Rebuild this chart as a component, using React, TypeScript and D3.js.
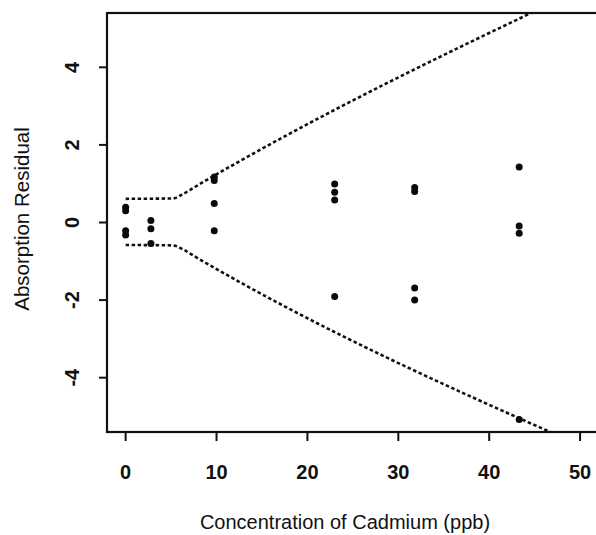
import React from "react";
import * as d3 from "d3";

// Data
const concentration = [0, 0, 0, 0, 2.78, 2.78, 2.78, 9.75, 9.75, 9.75, 9.75, 23, 23, 23, 23, 31.8, 31.8, 31.8, 31.8, 43.3, 43.3, 43.3, 43.3];
const residual = [0.39, 0.3, -0.21, -0.32, 0.05, -0.16, -0.54, 1.17, 1.08, 0.49, -0.21, 0.99, 0.78, 0.58, -1.91, 0.9, 0.8, -1.69, -2.0, 1.43, -0.09, -0.28, -5.08];

const upperX = [0, 5.2, 6.2, 7.5, 50];
const upperY = [0.61, 0.62, 0.72, 0.9, 6.0];
const lowerX = [0, 5.2, 6.2, 7.5, 50];
const lowerY = [-0.58, -0.59, -0.68, -0.86, -5.74];

const xTicks = [0, 10, 20, 30, 40, 50];
const yTicks = [-4, -2, 0, 2, 4];

const xTitle = "Concentration of Cadmium (ppb)";
const yTitle = "Absorption Residual";

const W = 596;
const H = 535;
const left = 107;
const top = 13;
const bottom = 432;
const right = 596;

export default function App() {
  const x = d3.scaleLinear().domain([-2.05, 51.75]).range([left, right]);
  const y = d3.scaleLinear().domain([-5.4, 5.4]).range([bottom, top]);

  const line = d3
    .line<[number, number]>()
    .x((d) => x(d[0]))
    .y((d) => y(d[1]))
    .curve(d3.curveMonotoneX);

  const upper = line(upperX.map((v, i) => [v, upperY[i]] as [number, number])) || "";
  const lower = line(lowerX.map((v, i) => [v, lowerY[i]] as [number, number])) || "";

  const font = "'Liberation Sans', Arial, Helvetica, sans-serif";

  return (
    <svg
      width={W}
      height={H}
      style={{ position: "absolute", left: 0, top: 0, background: "#fff" }}
      fontFamily={font}
    >
      <defs>
        <clipPath id="plotClip">
          <rect x={left} y={top} width={right + 20 - left} height={bottom - top} />
        </clipPath>
      </defs>
      <rect x={0} y={0} width={W} height={H} fill="#fff" />

      {/* confidence bounds */}
      <g clipPath="url(#plotClip)" fill="none" stroke="#111" strokeWidth={2.6} strokeDasharray="3.5,2.5">
        <path d={upper} />
        <path d={lower} />
      </g>

      {/* points */}
      <g fill="#0a0a0a">
        {concentration.map((c, i) => (
          <circle key={i} cx={x(c)} cy={y(residual[i])} r={3.5} />
        ))}
      </g>

      {/* box */}
      <rect
        x={left}
        y={top}
        width={right + 20 - left}
        height={bottom - top}
        fill="none"
        stroke="#111"
        strokeWidth={2.2}
      />

      {/* ticks */}
      <g stroke="#111" strokeWidth={2}>
        {xTicks.map((t) => (
          <line key={t} x1={x(t)} x2={x(t)} y1={bottom} y2={bottom + 9} />
        ))}
        {yTicks.map((t) => (
          <line key={t} x1={left - 8} x2={left} y1={y(t)} y2={y(t)} />
        ))}
      </g>

      <g fontSize={20} fontWeight="bold" fill="#111">
        {xTicks.map((t) => (
          <text key={t} x={x(t)} y={472} textAnchor="middle" dominantBaseline="central">
            {t}
          </text>
        ))}
        {yTicks.map((t) => (
          <text
            key={t}
            transform={`translate(72,${y(t)}) rotate(-90)`}
            textAnchor="middle"
            dominantBaseline="central"
          >
            {t}
          </text>
        ))}
      </g>

      <text x={345} y={522} fontSize={20} textAnchor="middle" dominantBaseline="central" fill="#111">
        {xTitle}
      </text>
      <text
        transform={`translate(21,219) rotate(-90)`}
        fontSize={20.5}
        textAnchor="middle"
        dominantBaseline="central"
        fill="#111"
      >
        {yTitle}
      </text>
    </svg>
  );
}
